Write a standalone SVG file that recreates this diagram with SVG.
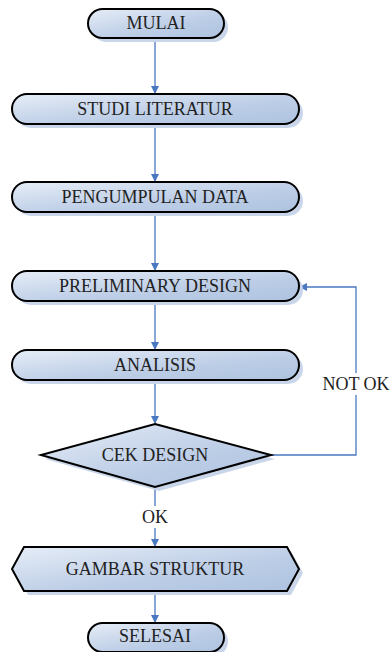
<svg xmlns="http://www.w3.org/2000/svg" width="391" height="652" viewBox="0 0 391 652">
<style>
.n{fill:url(#g);stroke:#000;stroke-width:2}
.sh{fill:#c9d6ea}
.t{font-family:"Liberation Serif","Times New Roman",serif;font-size:18px;fill:#222;text-anchor:middle}
.c{fill:none;stroke:#4a78c0;stroke-width:1.3}
</style>
<defs>
<linearGradient id="g" x1="0" y1="0" x2="1" y2="1">
<stop offset="0" stop-color="#e6edf7"/>
<stop offset="0.6" stop-color="#bccde6"/>
<stop offset="1" stop-color="#aec3e0"/>
</linearGradient>
<marker id="a" markerWidth="8" markerHeight="8" refX="7" refY="4" orient="auto" markerUnits="userSpaceOnUse">
<path d="M0,0 L8,4 L0,8 Z" fill="#4a78c0"/>
</marker>
</defs>
<g id="connectors">
<path class="c" d="M155,38 V93" marker-end="url(#a)"/>
<path class="c" d="M155,124 V181" marker-end="url(#a)"/>
<path class="c" d="M155,212 V270" marker-end="url(#a)"/>
<path class="c" d="M155,301 V349" marker-end="url(#a)"/>
<path class="c" d="M155,380 V423" marker-end="url(#a)"/>
<path class="c" d="M155,487 V546" marker-end="url(#a)"/>
<path class="c" d="M155,591 V622" marker-end="url(#a)"/>
<path class="c" d="M271,455 H356 V287 H300" marker-end="url(#a)"/>
<rect x="136" y="506" width="38" height="22" fill="#fff"/>
<text class="t" x="155" y="523">OK</text>
<rect x="320" y="373" width="71" height="22" fill="#fff"/>
<text class="t" x="356" y="390">NOT OK</text>
</g>
<g id="mulai">
<rect class="sh" x="92" y="13" width="136" height="29" rx="14.5"/>
<rect class="n" x="88" y="9" width="136" height="29" rx="14.5"/>
<text class="t" x="156" y="29">MULAI</text>
</g>
<g id="studi">
<rect class="sh" x="16" y="98" width="287" height="30" rx="15"/>
<rect class="n" x="12" y="94" width="287" height="30" rx="15"/>
<text class="t" x="155" y="115">STUDI LITERATUR</text>
</g>
<g id="pengumpulan">
<rect class="sh" x="16" y="186" width="287" height="30" rx="15"/>
<rect class="n" x="12" y="182" width="287" height="30" rx="15"/>
<text class="t" x="155" y="203">PENGUMPULAN DATA</text>
</g>
<g id="preliminary">
<rect class="sh" x="16" y="275" width="287" height="30" rx="15"/>
<rect class="n" x="12" y="271" width="287" height="30" rx="15"/>
<text class="t" x="155" y="292">PRELIMINARY DESIGN</text>
</g>
<g id="analisis">
<rect class="sh" x="16" y="354" width="287" height="30" rx="15"/>
<rect class="n" x="12" y="350" width="287" height="30" rx="15"/>
<text class="t" x="155" y="371">ANALISIS</text>
</g>
<g id="cek">
<polygon class="sh" points="159,428 275,459 159,491 45,459"/>
<polygon class="n" points="155,424 271,455 155,487 41,455"/>
<text class="t" x="155" y="461">CEK DESIGN</text>
</g>
<g id="gambar">
<polygon class="sh" points="28,551 291,551 303,573 291,595 28,595 16,573"/>
<polygon class="n" points="24,547 287,547 299,569 287,591 24,591 12,569"/>
<text class="t" x="155" y="575">GAMBAR STRUKTUR</text>
</g>
<g id="selesai">
<rect class="sh" x="92" y="627" width="136" height="29" rx="14.5"/>
<rect class="n" x="88" y="623" width="136" height="29" rx="14.5"/>
<text class="t" x="155" y="642">SELESAI</text>
</g>
</svg>
